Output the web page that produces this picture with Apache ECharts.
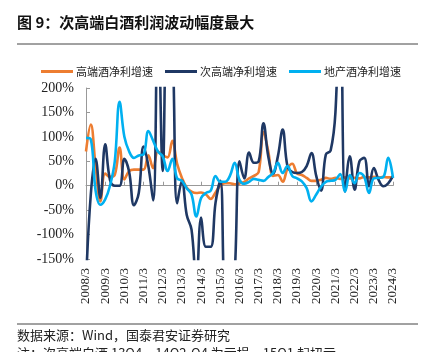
<!DOCTYPE html>
<html>
<head>
<meta charset="utf-8">
<script src="https://cdn.jsdelivr.net/npm/echarts@6/dist/echarts.min.js"></script>
<style>
    html, body {margin: 0; padding: 0; background: #fff;}
    #chart {width: 433px; height: 352px;}
</style>
</head>
<body>
<div id="chart"></div>
<script>
// 季度 2008Q1 - 2024Q1
var quarters = [];
for (var y = 2008; y <= 2024; y++) {
    for (var q = 1; q <= 4; q++) {
        if (y === 2024 && q > 1) break;
        quarters.push(y + '/' + (q * 3));
    }
}

// 高端酒净利增速 (%)
var gaoduan = [70, 125, 40, -32, 25, 18, 22, 78, 13, 30, 33, 33,
    33, 62, 36, 70, 62, 58, 92, 45, 16, -4, -12, -15,
    -14, -18, -27, -14, 0, 5, 5, 3, 5, 8, 15, 20,
    28, 110, 70, 20, 22, 8, 35, 45, 25, 22, 16, 10,
    10, 12, 16, 14, 16, 14, 17, 15, 16, 15, 18, 17,
    18, 17, 18, 17, 17];
// 次高端净利增速 (%)
var cigaoduan = [-200, -18, 55, -25, 85, 12, 0, 0, 55, 28, -40, -15,
    80, 40, -30, 380, 30, 380, 300, -36, 10, -60, -90, -200,
    -65, -125, -125, -35, 10, -260, -280, -180, 50, 15, 68, 47,
    50, 128, 60, 25, 60, 115, 40, 28, 26, 28, 40, 67,
    20, -10, 64, 72, 150, 420, -12, 60, -8, 50, 57, -1,
    36, 12, -1, 5, 20];
// 地产酒净利增速 (%)
var dichan = [98, 95, -10, -39, -28, 0, 50, 172, 100, 70, 57, 62,
    64, 112, 92, 70, 60, 30, 55, 15, 10, -5, -18, -63,
    -25, -15, -10, 20, 8, 8, 20, 47, 12, 4, 8, 14,
    12, 10, 18, 26, 47, 26, 40, 20, 15, 9, -5, -32,
    -18, -2, 8, 10, 12, 24, -12, 22, 5, 26, 18, -15,
    15, 16, 18, 57, 16];

var seriesNames = ['高端酒净利增速', '次高端净利增速', '地产酒净利增速'];
var seriesColors = ['#ED7D31', '#1F3864', '#00B0F0'];

var chart = echarts.init(document.getElementById('chart'));

function yearTick(i) {
    return i % 4 === 0;
}

function lineSeries(idx, data) {
    return {
        name: seriesNames[idx],
        type: 'line',
        data: data,
        smooth: 0.4,
        symbol: 'none',
        clip: true,
        lineStyle: {width: 2.6, color: seriesColors[idx]},
        itemStyle: {color: seriesColors[idx]}
    };
}

var option = {
    animation: false,
    textStyle: {fontFamily: 'Liberation Serif'},
    legend: {
        left: 36,
        top: 61,
        itemWidth: 32,
        itemHeight: 3,
        itemGap: 12,
        icon: 'rect',
        textStyle: {fontFamily: 'Noto Sans CJK SC', fontSize: 11, color: '#222', padding: [0, 0, 0, -2]},
        data: seriesNames
    },
    grid: {left: 86, right: 40, top: 88, bottom: 93},
    xAxis: [
        {
            type: 'category',
            data: quarters,
            boundaryGap: false,
            axisLine: {onZero: true, lineStyle: {color: '#999', width: 1}},
            axisTick: {inside: true, length: 4, interval: function (i) { return yearTick(i); }, lineStyle: {color: '#999'}},
            axisLabel: {show: false},
            splitLine: {show: false}
        },
        {
            type: 'category',
            data: quarters,
            boundaryGap: false,
            position: 'bottom',
            axisLine: {show: false, onZero: false},
            axisTick: {show: false},
            axisLabel: {
                interval: function (i) { return yearTick(i); },
                rotate: 90,
                margin: 9,
                fontFamily: 'Liberation Serif',
                fontSize: 13,
                color: '#222'
            },
            splitLine: {show: false}
        }
    ],
    yAxis: {
        type: 'value',
        min: -150,
        max: 200,
        interval: 50,
        axisLine: {show: true, lineStyle: {color: '#999'}},
        axisTick: {show: true, inside: true, length: 4, lineStyle: {color: '#999'}},
        axisLabel: {
            formatter: '{value}%',
            fontFamily: 'Liberation Serif',
            fontSize: 14,
            color: '#222',
            margin: 12
        },
        splitLine: {show: false}
    },
    series: [
        lineSeries(0, gaoduan),
        lineSeries(1, cigaoduan),
        lineSeries(2, dichan)
    ],
    graphic: [
        {
            type: 'text', left: 17, top: 15,
            style: {text: '图 9：次高端白酒利润波动幅度最大', font: 'bold 15px "Noto Sans CJK SC"', fill: '#111'}
        },
        {
            type: 'line', shape: {x1: 17, y1: 44, x2: 418, y2: 44},
            style: {stroke: '#444', lineWidth: 1}
        },
        {
            type: 'line', shape: {x1: 17, y1: 324, x2: 418, y2: 324},
            style: {stroke: '#444', lineWidth: 1}
        },
        {
            type: 'text', left: 17, top: 329,
            style: {text: '数据来源：Wind，国泰君安证券研究', font: '13px "Noto Sans CJK SC"', fill: '#222'}
        },
        {
            type: 'text', left: 17, top: 347,
            style: {text: '注：次高端白酒 13Q4、14Q2-Q4 为亏损，15Q1 起扭亏', font: '13px "Noto Sans CJK SC"', fill: '#222'}
        }
    ]
};

chart.setOption(option);
</script>
</body>
</html>
